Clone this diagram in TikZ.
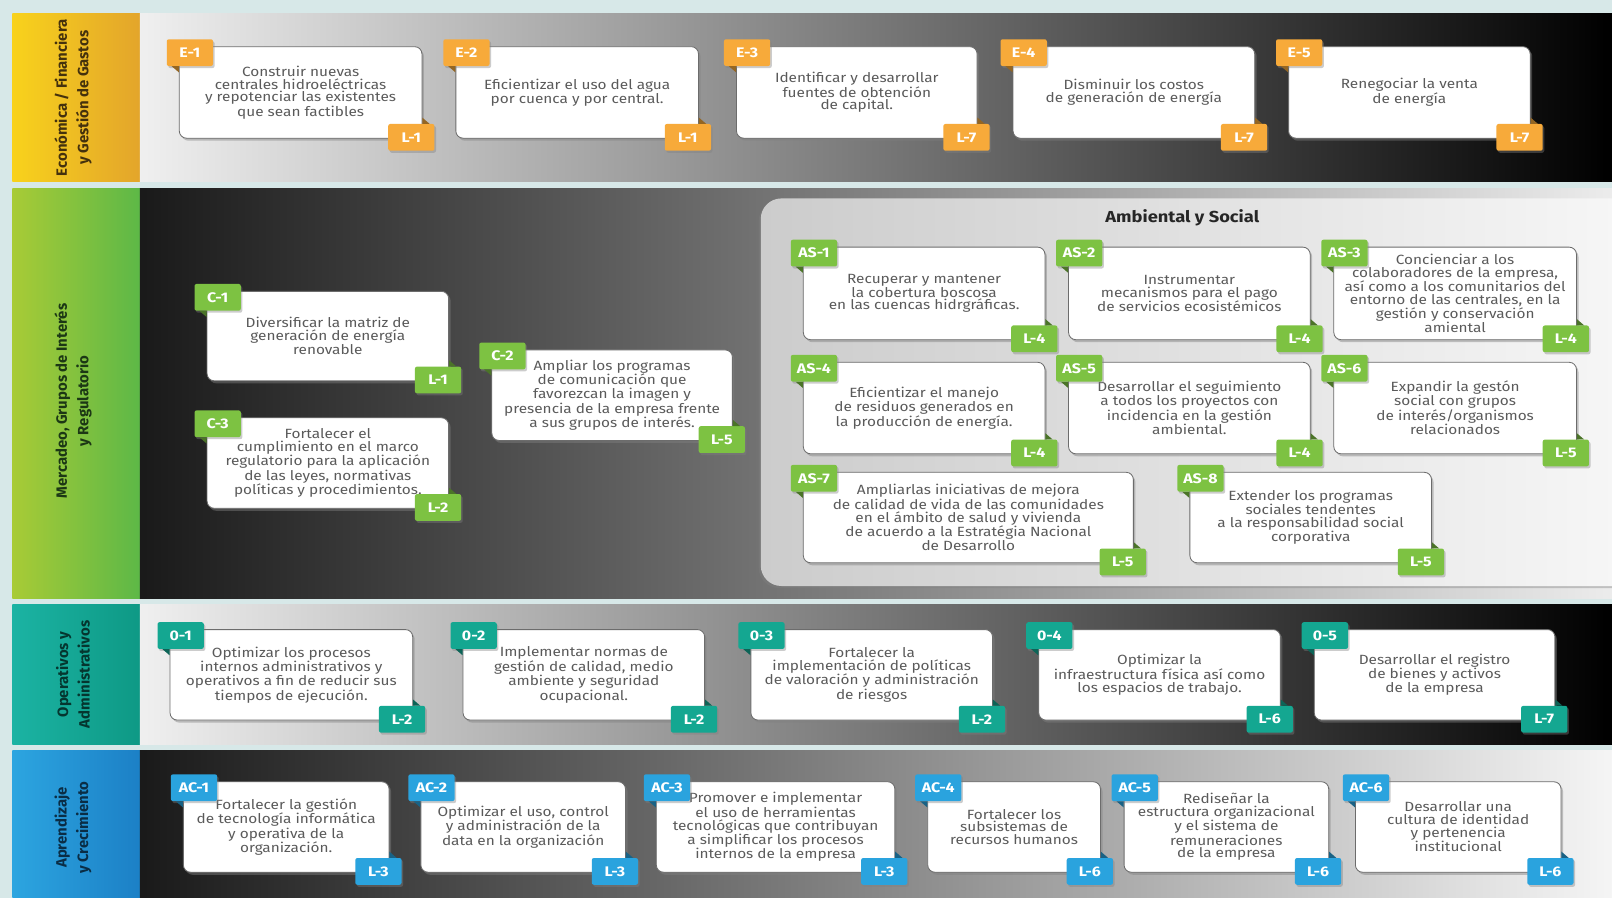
\documentclass[tikz,border=0pt]{standalone}
\usepackage{fontspec}
\setmainfont{Fira Sans}
\newfontfamily\cardfont[FakeStretch=1.15]{Fira Sans}
\usepackage{tikz}
\usetikzlibrary{calc, shadows, positioning}

\definecolor{bandbg}{HTML}{D7E8E8}
\definecolor{ecoA}{HTML}{F8D21C}
\definecolor{ecoB}{HTML}{E3A52B}
\definecolor{ecoTag}{HTML}{F7AA3A}
\definecolor{merA}{HTML}{A8CB36}
\definecolor{merB}{HTML}{5DB847}
\definecolor{merTag}{HTML}{7DC242}
\definecolor{opeA}{HTML}{1BB3A3}
\definecolor{opeB}{HTML}{0E9985}
\definecolor{opeTag}{HTML}{14A791}
\definecolor{apeA}{HTML}{2CA5E0}
\definecolor{apeB}{HTML}{1C80C6}
\definecolor{apeTag}{HTML}{2AA3DE}
\definecolor{cardtext}{HTML}{5A5A5A}

\tikzset{
  card/.style={draw=gray!85!black, fill=white, rounded corners=7pt, line width=0.8pt,
    align=center, text=cardtext, inner sep=3pt, font=\cardfont\fontsize{13}{12.5}\selectfont,
    drop shadow={opacity=0.45, shadow xshift=2pt, shadow yshift=-2.5pt}},
  tagbox/.style={minimum width=45pt, minimum height=26pt, inner sep=0pt, rounded corners=2pt,
    text=white, font=\cardfont\bfseries\fontsize{13.5}{14}\selectfont,
    drop shadow={opacity=0.4, shadow xshift=1.5pt, shadow yshift=-2pt}},
  sidelabel/.style={rotate=90, align=center, font=\bfseries\fontsize{14.5}{21}\selectfont},
}

% card: name, x, y, width, height, top tag, bottom tag, colour, text
\newcommand{\card}[9]{%
  \node[card, minimum width=#4pt, minimum height=#5pt, anchor=north west] (#1) at (#2,#3) {#9};
  \node[tagbox, fill=#8, anchor=north west] (#1-t) at ($(#1.north west)+(-12,-7)$) {#6};
  \node[tagbox, fill=#8, anchor=south east] (#1-l) at ($(#1.south east)+(12,12)$) {#7};
  \fill[#8!60!black] ($(#1-t.south west)+(5,0)$) -- (#1.west |- #1-t.south) -- ++(0,6) -- cycle;
  \fill[#8!60!black] (#1.east |- #1-l.north) -- ($(#1-l.north east)+(-5,0)$) -- ($(#1.east |- #1-l.north)+(0,-6)$) -- cycle;
}

\begin{document}
\begin{tikzpicture}[x=1pt, y=-1pt]

  \clip (0,0) rectangle (1568,873);
  \fill[bandbg] (0,0) rectangle (1568,873);

  % Economica / Financiera
  \shade[left color=ecoA, right color=ecoB] (12,13) rectangle (136,177);
  \shade[left color=gray!12, middle color=gray!100!black!70, right color=black] (136,13) rectangle (1568,177);
  \node[sidelabel, text=ecoB!30!black] (eco) at (71,95) {Económica / Financiera\\y Gestión de Gastos};

  \card{e1}{174}{45}{236}{89}{E-1}{L-1}{ecoTag}{Construir nuevas\\centrales hidroeléctricas\\y repotenciar las existentes\\que sean factibles}
  \card{e2}{443}{45}{236}{89}{E-2}{L-1}{ecoTag}{Eficientizar el uso del agua\\por cuenca y por central.}
  \card{e3}{716}{45}{234}{89}{E-3}{L-7}{ecoTag}{Identificar y desarrollar\\fuentes de obtención\\de capital.}
  \card{e4}{985}{45}{235}{89}{E-4}{L-7}{ecoTag}{Disminuir los costos\\de generación de energía}
  \card{e5}{1253}{45}{235}{89}{E-5}{L-7}{ecoTag}{Renegociar la venta\\de energía}

  % Mercadeo, Grupos de Interes y Regulatorio
  \shade[left color=merA, right color=merB] (12,183) rectangle (136,582);
  \shade[left color=black!90, middle color=black!55, right color=gray!15] (136,183) rectangle (1568,582);
  \node[sidelabel, text=merB!30!black] (mer) at (71,390) {Mercadeo, Grupos de Interés\\y Regulatorio};

  \card{c1}{201}{283}{235}{87}{C-1}{L-1}{merTag}{Diversificar la matriz de\\generación de energía\\renovable}
  \card{c3}{201}{406}{235}{88}{C-3}{L-2}{merTag}{Fortalecer el\\cumplimiento en el marco\\regulatorio para la aplicación\\de las leyes, normativas\\políticas y procedimientos.}
  \card{c2}{478}{340}{234}{88}{C-2}{L-5}{merTag}{Ampliar los programas\\de comunicación que\\favorezcan la imagen y\\presencia de la empresa frente\\a sus grupos de interés.}

  % Ambiental y Social
  \shade[left color=gray!40, right color=gray!6, rounded corners=20pt,
    drop shadow={opacity=0.4, shadow xshift=-2pt, shadow yshift=-2pt}] (740,193) rectangle (1600,570);
  \node[font=\cardfont\bfseries\fontsize{15.5}{17}\selectfont, text=black!85] (amb) at (1150,212) {Ambiental y Social};

  \card{as1}{781}{240}{235}{90}{AS-1}{L-4}{merTag}{Recuperar y mantener\\la cobertura boscosa\\en las cuencas hidrgráficas.}
  \card{as2}{1039}{240}{235}{90}{AS-2}{L-4}{merTag}{Instrumentar\\mecanismos para el pago\\de servicios ecosistémicos}
  \card{as3}{1297}{240}{236}{90}{AS-3}{L-4}{merTag}{Concienciar a los\\colaboradores de la empresa,\\así como a los comunitarios del\\entorno de las centrales, en la\\gestión y conservación\\amiental}
  \card{as4}{781}{352}{235}{89}{AS-4}{L-4}{merTag}{Eficientizar el manejo\\de residuos generados en\\la producción de energía.}
  \card{as5}{1039}{352}{235}{89}{AS-5}{L-4}{merTag}{Desarrollar el seguimiento\\a todos los proyectos con\\incidencia en la gestión\\ambiental.}
  \card{as6}{1297}{352}{236}{89}{AS-6}{L-5}{merTag}{Expandir la gestón\\social con grupos\\de interés/organismos\\relacionados}
  \card{as7}{781}{459}{321}{88}{AS-7}{L-5}{merTag}{Ampliarlas iniciativas de mejora\\de calidad de vida de las comunidades\\en el ámbito de salud y vivienda\\de acuerdo a la Estratégia Nacional\\de Desarrollo}
  \card{as8}{1157}{459}{235}{88}{AS-8}{L-5}{merTag}{Extender los programas\\sociales tendentes\\a la responsabilidad social\\corporativa}

  % Operativos y Administrativos
  \shade[left color=opeA, right color=opeB] (12,588) rectangle (136,724);
  \shade[left color=gray!12, middle color=gray!100!black!70, right color=black] (136,588) rectangle (1568,724);
  \node[sidelabel, text=opeB!35!black] (ope) at (71,656) {Operativos y\\Administrativos};

  \card{o1}{165}{612}{236}{88}{0-1}{L-2}{opeTag}{Optimizar los procesos\\internos administrativos y\\operativos a fin de reducir sus\\tiempos de ejecución.}
  \card{o2}{450}{612}{235}{88}{0-2}{L-2}{opeTag}{Implementar normas de\\gestión de calidad, medio\\ambiente y seguridad\\ocupacional.}
  \card{o3}{730}{612}{235}{88}{0-3}{L-2}{opeTag}{Fortalecer la\\implementación de políticas\\de valoración y administración\\de riesgos}
  \card{o4}{1010}{612}{235}{88}{0-4}{L-6}{opeTag}{Optimizar la\\infraestructura física así como\\los espacios de trabajo.}
  \card{o5}{1278}{612}{234}{88}{0-5}{L-7}{opeTag}{Desarrollar el registro\\de bienes y activos\\de la empresa}

  % Aprendizaje y Crecimiento
  \shade[left color=apeA, right color=apeB] (12,730) rectangle (136,873);
  \shade[left color=black!90, middle color=black!50, right color=gray!8] (136,730) rectangle (1568,873);
  \node[sidelabel, text=apeB!35!black] (ape) at (71,805) {Aprendizaje\\y Crecimiento};

  \card{ac1}{178}{760}{200}{88}{AC-1}{L-3}{apeTag}{Fortalecer la gestión\\de tecnología informática\\y operativa de la\\organización.}
  \card{ac2}{409}{760}{199}{88}{AC-2}{L-3}{apeTag}{Optimizar el uso, control\\y administración de la\\data en la organización}
  \card{ac3}{638}{760}{232}{88}{AC-3}{L-3}{apeTag}{Promover e implementar\\el uso de herramientas\\tecnológicas que contribuyan\\a simplificar los procesos\\internos de la empresa}
  \card{ac4}{902}{760}{168}{88}{AC-4}{L-6}{apeTag}{Fortalecer los\\subsistemas de\\recursos humanos}
  \card{ac5}{1093}{760}{199}{88}{AC-5}{L-6}{apeTag}{Rediseñar la\\estructura organizacional\\y el sistema de\\remuneraciones\\de la empresa}
  \card{ac6}{1318}{760}{200}{88}{AC-6}{L-6}{apeTag}{Desarrollar una\\cultura de identidad\\y pertenencia\\institucional}

\end{tikzpicture}
\end{document}
